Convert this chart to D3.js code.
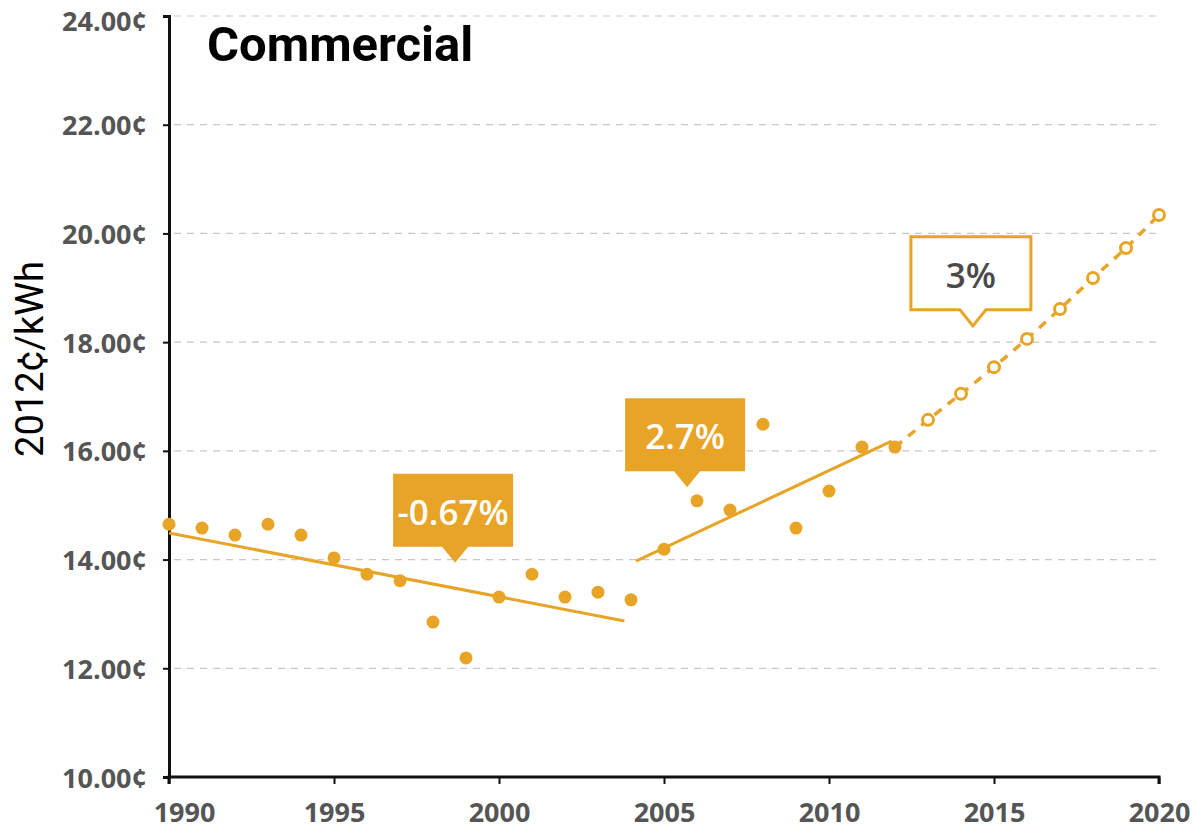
<!DOCTYPE html>
<head>
  <meta charset="utf-8">
  <title>Commercial electricity price</title>
  <style>
    body { margin: 0; background: #fff; }
    .tick text { font-family: "Open Sans", sans-serif; font-weight: 700; fill: #555; }
  </style>
</head>
<body>
  <script src="https://cdn.jsdelivr.net/npm/d3@7"></script>
  <script>
    // data (2012 cents per kWh)
    var years = [1990, 1991, 1992, 1993, 1994, 1995, 1996, 1997, 1998, 1999, 2000, 2001,
                 2002, 2003, 2004, 2005, 2006, 2007, 2008, 2009, 2010, 2011, 2012];
    var prices = [14.65, 14.58, 14.45, 14.65, 14.45, 14.03, 13.73, 13.61, 12.85, 12.19, 13.31, 13.73,
                  13.31, 13.40, 13.26, 14.19, 15.08, 14.91, 16.49, 14.58, 15.26, 16.07, 16.07];
    var projYears = [2012, 2013, 2014, 2015, 2016, 2017, 2018, 2019, 2020];
    var projPrices = [16.07, 16.57, 17.05, 17.54, 18.06, 18.61, 19.18, 19.73, 20.34];
    // trend segments [year, value]
    var trend1 = [[1990, 14.49], [2003.8, 12.87]];
    var trend2 = [[2004.15, 13.97], [2011.9, 16.18]];
    // callouts: label, tip year, tip value, filled
    var callouts = [
      { label: "-0.67%", year: 1998.67, value: 13.94, filled: true },
      { label: "2.7%", year: 2005.7, value: 15.33, filled: true },
      { label: "3%", year: 2014.36, value: 18.30, filled: false }
    ];
    var yTicks = [10, 12, 14, 16, 18, 20, 22, 24];
    var xTicks = [1990, 1995, 2000, 2005, 2010, 2015, 2020];

    var w = 1195, h = 830;
    var color = "#E8A427";

    var x = d3.scaleLinear().domain([1990, 2020]).range([169, 1159]);
    var y = d3.scaleLinear().domain([10, 24]).range([777, 16]);

    var svg = d3.select("body").append("svg").attr("width", w).attr("height", h);

    // gridlines
    svg.append("g").selectAll("line")
      .data(yTicks.filter(function(d) { return d > 10; }))
      .enter().append("line")
      .attr("x1", x(1990) + 5).attr("x2", x(2020))
      .attr("y1", function(d) { return y(d); }).attr("y2", function(d) { return y(d); })
      .attr("stroke", "#c8c8c8").attr("stroke-width", 1.2)
      .attr("stroke-dasharray", "7,6");

    // axes
    var xAxis = d3.axisBottom(x).tickValues(xTicks).tickFormat(d3.format("d")).tickSize(7).tickPadding(19);
    var yAxis = d3.axisLeft(y).tickValues(yTicks).tickFormat(function(d) { return d3.format(".2f")(d) + "¢"; }).tickSize(6).tickPadding(16);

    var gx = svg.append("g").attr("transform", "translate(0," + y(10) + ")").call(xAxis);
    gx.select(".domain").attr("stroke", "#111").attr("stroke-width", 3).attr("d", "M" + x(1990) + ",7V0H" + x(2020) + "V7");
    gx.selectAll(".tick line").attr("stroke", "#111").attr("stroke-width", 2);
    gx.selectAll(".tick text").style("font-size", "27px")
      .attr("dx", function(d) { return d === 1990 ? 15 : 0; });

    var gy = svg.append("g").attr("transform", "translate(" + x(1990) + ",0)").call(yAxis);
    gy.select(".domain").attr("stroke", "#111").attr("stroke-width", 3);
    gy.selectAll(".tick line").attr("stroke", "#111").attr("stroke-width", 2);
    gy.selectAll(".tick text").style("font-size", "27px")
      .attr("dy", function(d) { return d === 24 ? "0.55em" : "0.37em"; });

    // trend lines
    var line = d3.line().x(function(d) { return x(d[0]); }).y(function(d) { return y(d[1]); });
    [trend1, trend2].forEach(function(t) {
      svg.append("path").attr("d", line(t))
        .attr("fill", "none").attr("stroke", color).attr("stroke-width", 3);
    });

    // projection dashed line
    var proj = projYears.map(function(d, i) { return [d, projPrices[i]]; });
    svg.append("path").attr("d", line(proj))
      .attr("fill", "none").attr("stroke", color).attr("stroke-width", 3.5)
      .attr("stroke-dasharray", "9,8");

    // historical points
    svg.append("g").selectAll("circle")
      .data(years.map(function(d, i) { return [d, prices[i]]; }))
      .enter().append("circle")
      .attr("cx", function(d) { return x(d[0]); })
      .attr("cy", function(d) { return y(d[1]); })
      .attr("r", 6.5).attr("fill", color);

    // projected points (open)
    svg.append("g").selectAll("circle")
      .data(proj.slice(1))
      .enter().append("circle")
      .attr("cx", function(d) { return x(d[0]); })
      .attr("cy", function(d) { return y(d[1]); })
      .attr("r", 5.5).attr("fill", "#fff").attr("stroke", color).attr("stroke-width", 3);

    // callouts
    callouts.forEach(function(c) {
      var tx = x(c.year), ty = y(c.value);
      var bw = 120, bh = 73, ph = 16;
      var left = tx - 62, top = ty - ph - bh;
      var p = "M" + left + "," + top + "h" + bw + "v" + bh +
              "H" + (tx + 13) + "L" + tx + "," + ty + "L" + (tx - 13) + "," + (top + bh) +
              "H" + left + "Z";
      var g = svg.append("g");
      g.append("path").attr("d", p)
        .attr("fill", c.filled ? color : "#fff")
        .attr("stroke", color).attr("stroke-width", c.filled ? 0 : 3);
      g.append("text")
        .attr("x", left + bw / 2).attr("y", top + 51)
        .attr("text-anchor", "middle")
        .style("font-family", "'Open Sans', sans-serif").style("font-weight", 600)
        .style("font-size", "35px")
        .attr("fill", c.filled ? "#fff" : "#4a4a4a")
        .text(c.label);
    });

    // title
    svg.append("text").attr("x", 207).attr("y", 61)
      .style("font-family", "Roboto, sans-serif").style("font-weight", 700).style("font-size", "49px")
      .attr("fill", "#000").text("Commercial");

    // y axis label
    svg.append("text")
      .attr("transform", "translate(43,359) rotate(-90)")
      .attr("text-anchor", "middle")
      .style("font-family", "Roboto, sans-serif").style("font-size", "38px")
      .attr("fill", "#000").text("2012¢/kWh");
  </script>
</body>
